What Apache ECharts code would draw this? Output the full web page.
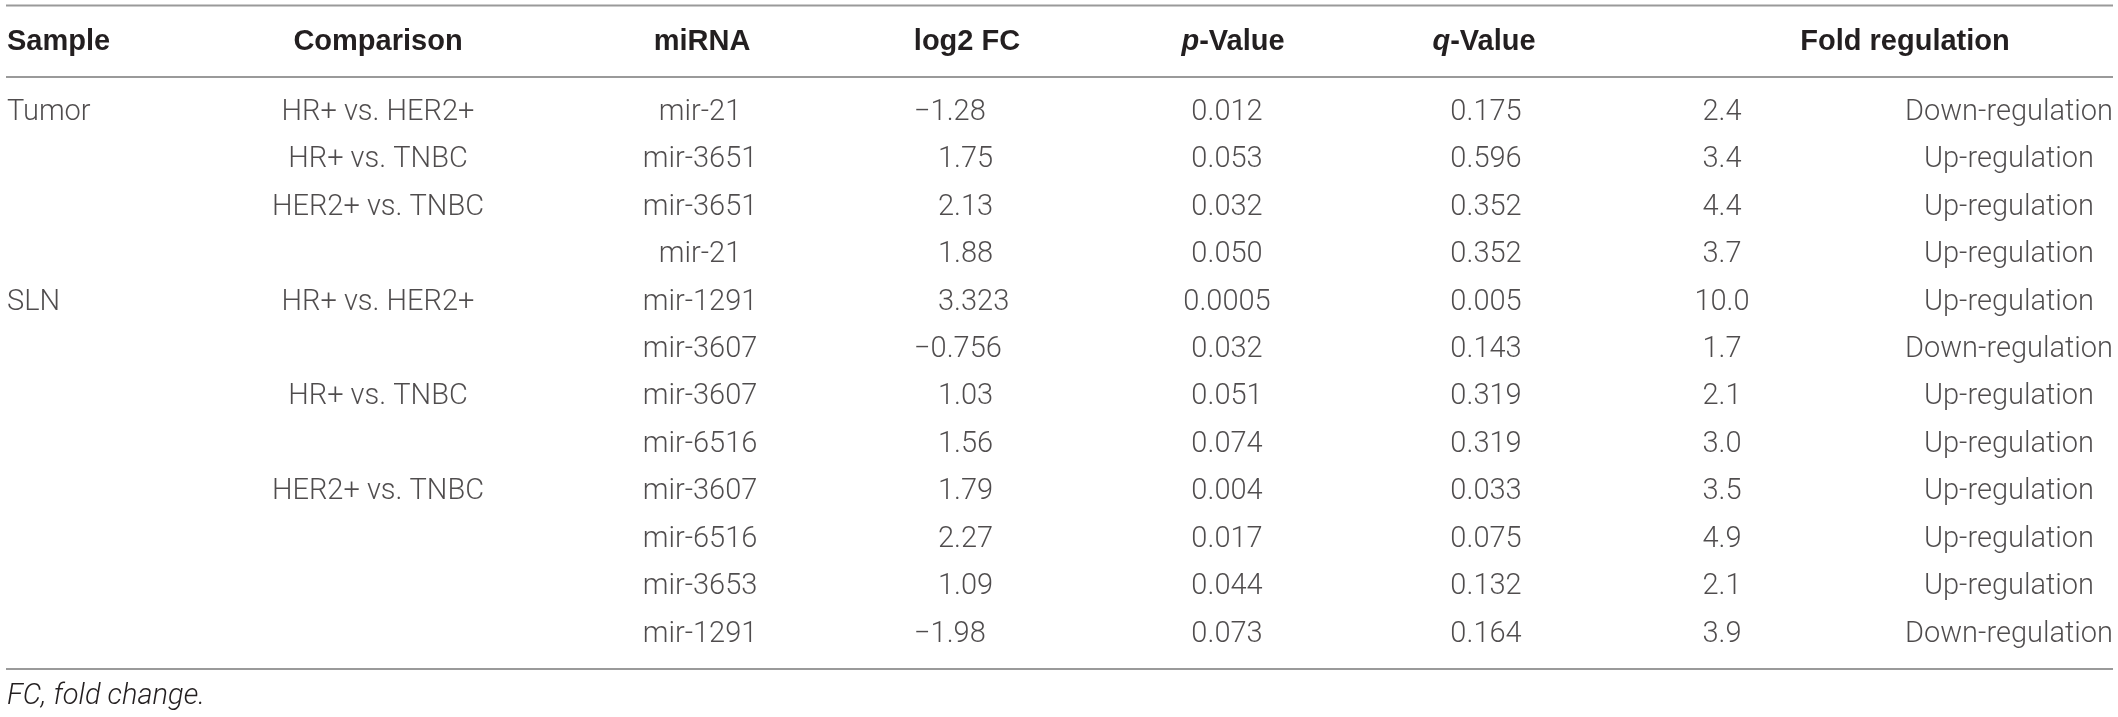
<!DOCTYPE html>
<html>
<head>
<meta charset="utf-8">
<script src="https://cdn.jsdelivr.net/npm/echarts@6/dist/echarts.min.js"></script>
<style>
  html, body { margin: 0; padding: 0; background: #fff; }
  #main { width: 2118px; height: 717px; }
</style>
</head>
<body>
<div id="main"></div>
<script>
// table rows (one entry per row)
var samples = ['Tumor', '', '', '', 'SLN', '', '', '', '', '', '', ''];
var comparisons = ['HR+ vs. HER2+', 'HR+ vs. TNBC', 'HER2+ vs. TNBC', '', 'HR+ vs. HER2+', '', 'HR+ vs. TNBC', '', 'HER2+ vs. TNBC', '', '', ''];
var mirnas = ['mir-21', 'mir-3651', 'mir-3651', 'mir-21', 'mir-1291', 'mir-3607', 'mir-3607', 'mir-6516', 'mir-3607', 'mir-6516', 'mir-3653', 'mir-1291'];
var log2FC = ['−1.28', '1.75', '2.13', '1.88', '3.323', '−0.756', '1.03', '1.56', '1.79', '2.27', '1.09', '−1.98'];
var pValues = ['0.012', '0.053', '0.032', '0.050', '0.0005', '0.032', '0.051', '0.074', '0.004', '0.017', '0.044', '0.073'];
var qValues = ['0.175', '0.596', '0.352', '0.352', '0.005', '0.143', '0.319', '0.319', '0.033', '0.075', '0.132', '0.164'];
var foldValues = ['2.4', '3.4', '4.4', '3.7', '10.0', '1.7', '2.1', '3.0', '3.5', '4.9', '2.1', '3.9'];
var regulation = ['Down-regulation', 'Up-regulation', 'Up-regulation', 'Up-regulation', 'Up-regulation', 'Down-regulation',
                  'Up-regulation', 'Up-regulation', 'Up-regulation', 'Up-regulation', 'Up-regulation', 'Down-regulation'];
var footnote = 'FC, fold change.';

var rowIds = mirnas.map(function (v, i) { return 'r' + i; });

var textColor = '#231f20';
var ruleColor = '#9a9a9a';
var bodyFont = 'Roboto';
var headFont = 'Liberation Sans';

// column anchors along the x axis (0..2118)
var columns = [
    { data: samples,     x: 7,    align: 'left' },
    { data: comparisons, x: 378,  align: 'center' },
    { data: mirnas,      x: 700,  align: 'center' },
    { data: log2FC,      x: 938,  align: 'left', hangMinus: true },
    { data: pValues,     x: 1227, align: 'center' },
    { data: qValues,     x: 1486, align: 'center' },
    { data: foldValues,  x: 1722, align: 'center' },
    { data: regulation,  x: 2009, align: 'center' }
];

var headers = [
    { text: 'Sample', x: 7, align: 'left' },
    { text: 'Comparison', x: 378, align: 'center' },
    { text: 'miRNA', x: 702, align: 'center' },
    { text: 'log2 FC', x: 967, align: 'center' },
    { text: '{i|p}-Value', x: 1233, align: 'center' },
    { text: '{i|q}-Value', x: 1484, align: 'center' },
    { text: 'Fold regulation', x: 1905, align: 'center' }
];

var series = columns.map(function (col) {
    return {
        type: 'scatter',
        symbolSize: 0,
        silent: true,
        data: col.data.map(function (v, i) {
            var item = { value: [col.x, rowIds[i]], name: v };
            if (col.hangMinus && v.charAt(0) === '−') {
                item.label = { offset: [-24, 0] };
            }
            return item;
        }),
        label: {
            show: true,
            position: 'inside',
            align: col.align,
            verticalAlign: 'middle',
            formatter: function (p) { return p.name; },
            color: textColor,
            fontFamily: bodyFont,
            fontWeight: 300,
            fontSize: 29
        }
    };
});

var graphics = [];
[5.5, 77, 669].forEach(function (y) {
    graphics.push({
        type: 'line',
        silent: true,
        shape: { x1: 6, y1: y, x2: 2113, y2: y },
        style: { stroke: ruleColor, lineWidth: 2 }
    });
});
headers.forEach(function (h) {
    graphics.push({
        type: 'text',
        silent: true,
        x: h.x,
        y: 42,
        style: {
            text: h.text,
            textAlign: h.align,
            textVerticalAlign: 'middle',
            fill: textColor,
            fontFamily: headFont,
            fontWeight: 'bold',
            fontSize: 29,
            rich: {
                i: { fontFamily: headFont, fontStyle: 'italic', fontWeight: 'bold', fontSize: 29, fill: textColor }
            }
        }
    });
});
graphics.push({
    type: 'text',
    silent: true,
    x: 7,
    y: 697,
    style: {
        text: footnote,
        textAlign: 'left',
        textVerticalAlign: 'middle',
        fill: textColor,
        fontFamily: bodyFont,
        fontWeight: 300,
        fontStyle: 'italic',
        fontSize: 29
    }
});

var myChart = echarts.init(document.getElementById('main'));
var option = {
    animation: false,
    backgroundColor: '#ffffff',
    grid: { left: 0, right: 0, top: 89, height: 569 },
    xAxis: { type: 'value', min: 0, max: 2118, show: false },
    yAxis: { type: 'category', data: rowIds, inverse: true, show: false },
    graphic: graphics,
    series: series
};
myChart.setOption(option);
</script>
</body>
</html>
